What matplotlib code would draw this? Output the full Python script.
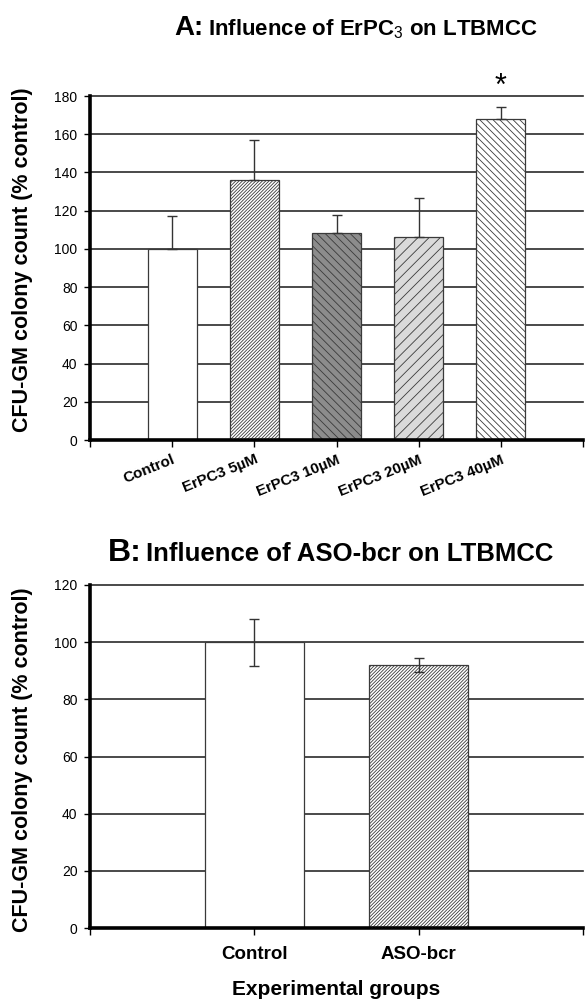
import numpy as np
import matplotlib
matplotlib.use("Agg")
import matplotlib.pyplot as plt

plt.rcParams["font.family"] = ["Liberation Sans", "DejaVu Sans"]
plt.rcParams["mathtext.fontset"] = "custom"
plt.rcParams["mathtext.rm"] = "Liberation Sans"
plt.rcParams["hatch.linewidth"] = 0.6

# panel A data
a_labels = ["Control", "ErPC3 5µM", "ErPC3 10µM", "ErPC3 20µM", "ErPC3 40µM"]
a_means = [100, 136, 108.5, 106, 168]
a_err = [17, 21, 9, 20.5, 6]
a_signif = [False, False, False, False, True]

# panel B data
b_labels = ["Control", "ASO-bcr"]
b_means = [100, 92]
b_err = [8.2, 2.3]

a_fill = ["white", "white", "#8c8c8c", "#dadada", "white"]
a_hatch = [None, "/" * 10, "\\" * 4, "///", "\\" * 5]
b_fill = ["white", "white"]
b_hatch = [None, "/" * 10]

fig = plt.figure(figsize=(5.86, 10.0), dpi=100)
axA = fig.add_axes([90/586, 1-440/1000, 493/586, 344/1000])
axB = fig.add_axes([90/586, 1-928/1000, 493/586, 343/1000])


def style_axis(ax, ymax, n):
    ax.set_xlim(-1, n)
    ax.set_ylim(0, ymax)
    ax.set_yticks(np.arange(0, ymax + 1, 20))
    ax.set_xticks(np.arange(-1, n + 1))
    ax.yaxis.grid(True, color="#2a2a2a", linewidth=1.2, zorder=0)
    ax.set_axisbelow(True)
    for s in ["top", "right"]:
        ax.spines[s].set_visible(False)
    ax.spines["left"].set_linewidth(2.6)
    ax.spines["bottom"].set_linewidth(2.6)
    ax.tick_params(axis="y", length=4, width=1, labelsize=10, pad=5)
    ax.tick_params(axis="x", length=5, width=1)
    for gl in ax.get_ygridlines():
        gl.set_clip_on(False)


# ---- panel A
x = np.arange(len(a_labels))
style_axis(axA, 180, len(a_labels))
for i in range(len(a_labels)):
    axA.bar(x[i], a_means[i], width=0.6, color=a_fill[i], edgecolor="#3a3a3a",
            linewidth=0.9, hatch=a_hatch[i], zorder=2)
axA.errorbar(x, a_means, yerr=[np.zeros(len(a_err)), a_err], fmt="none",
             ecolor="#333333", elinewidth=1.0, capsize=3.5, capthick=1.0, zorder=3)
for i, s in enumerate(a_signif):
    if s:
        axA.text(x[i], a_means[i] + a_err[i] + 11, "*", ha="center", va="center",
                 fontsize=22, clip_on=False)
axA.set_xticklabels([""] + a_labels + [""], rotation=22, ha="right",
                    rotation_mode="anchor", fontsize=11, fontweight="bold")
axA.tick_params(axis="x", pad=4)
axA.set_ylabel("CFU-GM colony count (% control)", fontsize=15.5, fontweight="bold")
axA.yaxis.set_label_coords(-0.116, 0.523)

# ---- panel B
xb = np.arange(len(b_labels))
style_axis(axB, 120, len(b_labels))
for i in range(len(b_labels)):
    axB.bar(xb[i], b_means[i], width=0.6, color=b_fill[i], edgecolor="#3a3a3a",
            linewidth=0.9, hatch=b_hatch[i], zorder=2)
axB.errorbar(xb, b_means, yerr=b_err, fmt="none", ecolor="#333333",
             elinewidth=1.0, capsize=3.5, capthick=1.0, zorder=3)
axB.set_xticklabels([""] + b_labels + [""], fontsize=13.5, fontweight="bold")
axB.tick_params(axis="x", pad=8)
axB.set_ylabel("CFU-GM colony count (% control)", fontsize=15.5, fontweight="bold")
axB.yaxis.set_label_coords(-0.116, 0.49)
axB.set_xlabel("Experimental groups", fontsize=15, fontweight="bold", labelpad=12)


def rich_title(parts, xc, ybase):
    fig.canvas.draw()
    r = fig.canvas.get_renderer()
    texts = []
    for s, size in parts:
        t = fig.text(0, ybase, s, fontsize=size, fontweight="bold", va="baseline")
        texts.append(t)
    widths = [t.get_window_extent(r).width for t in texts]
    total = sum(widths) + 4
    xpos = xc * fig.bbox.width - total / 2
    for t, w in zip(texts, widths):
        t.set_x(xpos / fig.bbox.width)
        xpos += w + 4


rich_title([("A:", 20), (r"Influence of ErPC$_{3}$ on LTBMCC", 16)], 356/586, 1-35/1000)
rich_title([("B:", 23), ("Influence of ASO-bcr on LTBMCC", 18.5)], 331/586, 1-561/1000)

fig.savefig("out.png", dpi=100)
